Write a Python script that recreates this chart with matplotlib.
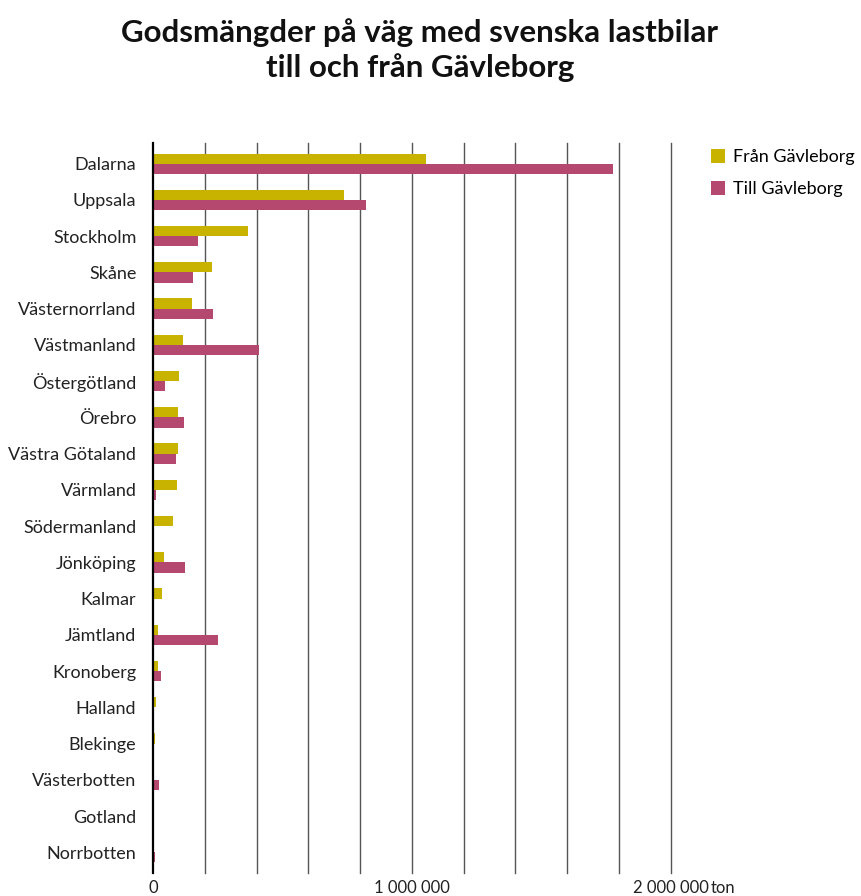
import matplotlib
matplotlib.use("Agg")
import matplotlib.pyplot as plt
import matplotlib.transforms as mtransforms
import numpy as np

# ton per län
lan = ["Dalarna", "Uppsala", "Stockholm", "Skåne", "Västernorrland", "Västmanland",
       "Östergötland", "Örebro", "Västra Götaland", "Värmland", "Södermanland",
       "Jönköping", "Kalmar", "Jämtland", "Kronoberg", "Halland", "Blekinge",
       "Västerbotten", "Gotland", "Norrbotten"]
fran = [1054000, 736000, 368000, 227000, 149000, 115000, 102000, 98000, 97000, 94000,
        76000, 44000, 35000, 20000, 18000, 13000, 6000, 2000, 1000, 0]
till = [1777000, 824000, 174000, 153000, 233000, 410000, 45000, 120000, 88000, 10000,
        5000, 125000, 3000, 252000, 32000, 2000, 0, 22000, 1000, 9000]

c_fran = "#C8B400"
c_till = "#B5486F"

plt.rcParams["font.family"] = ["Lato", "DejaVu Sans"]

fig = plt.figure(figsize=(8.62, 8.96), dpi=100)
ax = fig.add_axes([0.1775, 0.0257, 0.6006, 0.8147])

y = np.arange(len(lan))
h = 0.28
ax.barh(y - h / 2, fran, height=h, color=c_fran, label="Från Gävleborg", zorder=3)
ax.barh(y + h / 2, till, height=h, color=c_till, label="Till Gävleborg", zorder=3)

ax.set_ylim(len(lan) - 1 + 0.57, -0.57)
ax.set_xlim(0, 2000000)
ax.set_yticks(y)
ax.set_yticklabels(lan, fontsize=13, color="#222222")
ax.set_xticks([0, 1000000, 2000000])
ax.set_xticklabels(["0", "1 000 000", "2 000 000"], fontsize=12, color="#222222")
ax.tick_params(length=0)
ax.tick_params(axis="y", pad=12)
ax.tick_params(axis="x", pad=5)

for gx in np.arange(200000, 2000001, 200000):
    ax.axvline(gx, color="#555555", lw=1, zorder=1, clip_on=False)

for s in ["top", "right", "bottom"]:
    ax.spines[s].set_visible(False)
ax.spines["left"].set_color("black")
ax.spines["left"].set_linewidth(1.6)
ax.spines["left"].set_zorder(4)

# enhet efter sista tickmarkeringen
trans = mtransforms.blended_transform_factory(ax.transData, ax.transAxes)
trans = mtransforms.offset_copy(trans, fig=fig, y=-5, units="points")
ax.text(2154000, 0, "ton", transform=trans, fontsize=12, color="#222222",
        ha="left", va="top")

fig.legend(loc="upper left", bbox_to_anchor=(0.806, 0.852), frameon=False,
           fontsize=13, handlelength=0.8, handleheight=0.8, handletextpad=0.4,
           labelspacing=0.9)

fig.text(0.487, 0.944, "Godsmängder på väg med svenska lastbilar\ntill och från Gävleborg",
         ha="center", va="center", fontsize=22.5, fontweight="bold", color="#111111",
         linespacing=1.25)

fig.savefig("out.png", dpi=100)
